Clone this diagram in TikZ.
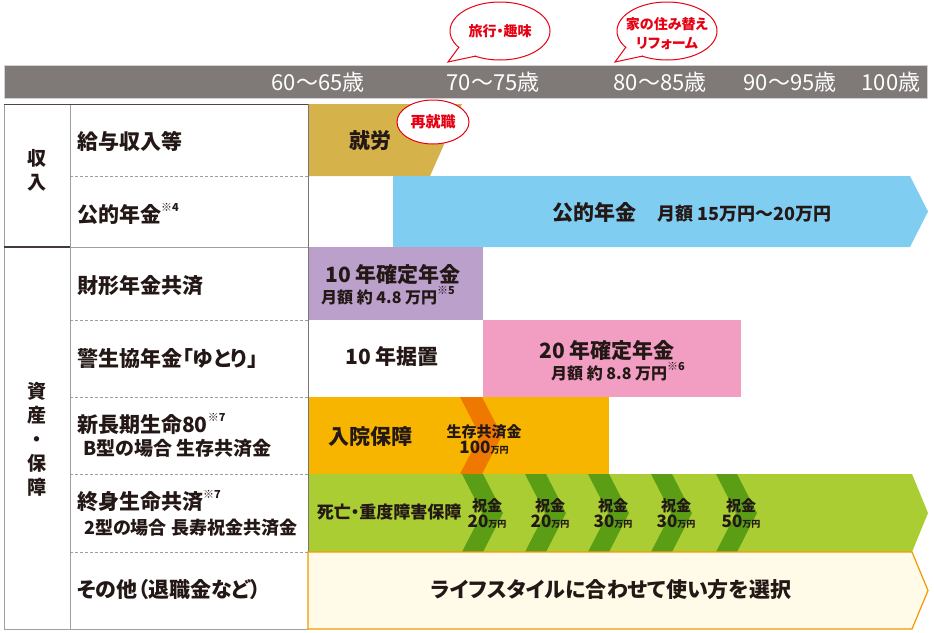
\documentclass[tikz,border=0pt]{standalone}
\usepackage{fontspec}
\setmainfont{Noto Sans CJK JP}[RawFeature=+palt]
\usetikzlibrary{shapes.geometric}
\definecolor{ink}{HTML}{231815}
\definecolor{barg}{HTML}{7F7A78}
\definecolor{gold}{HTML}{D6B24B}
\definecolor{sky}{HTML}{80CDF2}
\definecolor{lav}{HTML}{BBA0CC}
\definecolor{rose}{HTML}{F19EC2}
\definecolor{amber}{HTML}{F8B500}
\definecolor{rust}{HTML}{EE7800}
\definecolor{lime}{HTML}{ABCD34}
\definecolor{leaf}{HTML}{5B9E16}
\definecolor{cream}{HTML}{FFFBE8}
\definecolor{edge}{HTML}{F39800}
\definecolor{alert}{HTML}{E60012}
\newcommand\kome[1]{\raisebox{.55em}{\fontsize{11}{11}\selectfont ※#1}}
\newcommand\gnum[1]{{\fontsize{17}{16}\selectfont#1}{\fontsize{9}{9}\selectfont 万円}}

\begin{document}
\begin{tikzpicture}[x=1pt,y=-1pt,every node/.style={inner sep=0pt,text=ink},
rowlbl/.style={anchor=west,font=\bfseries\fontsize{21}{24}\selectfont},
grplbl/.style={align=center,font=\bfseries\fontsize{19}{24}\selectfont},
agelbl/.style={text=white,font=\fontsize{22}{26}\selectfont},
barlbl/.style={font=\bfseries\fontsize{21}{24}\selectfont},
sublbl/.style={font=\bfseries\fontsize{16}{18}\selectfont},
giftlbl/.style={align=center,font=\bfseries\fontsize{15}{16}\selectfont},
bubtxt/.style={text=alert,align=center,font=\bfseries\fontsize{14}{19}\selectfont},
bubline/.style={fill=white,draw=alert,line width=1pt},
rule/.style={draw=gray!75,line width=0.8pt},
dashrule/.style={draw=gray!75,line width=0.8pt,dash pattern=on 3pt off 2pt}]
\useasboundingbox(0,0)rectangle(934,632);
\path[fill=barg,draw=gray!35,line width=1pt](4,65)rectangle(927,98);
\node[agelbl](a60) at (318,82){60〜65歳};
\node[agelbl](a70) at (493,82){70〜75歳};
\node[agelbl](a80) at (660,82){80〜85歳};
\node[agelbl](a90) at (790,82){90〜95歳};
\node[agelbl](a100) at (891,82){100歳};
\fill[gold](308,104)--(462,104)--(430,176)--(308,176)--cycle;
\fill[sky](393,176)--(910,176)--(928,211.5)--(910,247)--(393,247)--cycle;
\fill[lav](308,247)rectangle(483,320);
\fill[rose](483,320)rectangle(741,397);
\fill[amber](308,397)rectangle(609,474);
\fill[rust](460,397)--(482,397)--(502,435.5)--(482,474)--(460,474)--(480,435.5)--cycle;
\fill[lime](308,474)--(912,474)--(928,513)--(912,552)--(308,552)--cycle;
\foreach \x in {462,525,588,651,716}
  \fill[leaf](\x,474)--(\x+21,474)--(\x+41,513)--(\x+21,552)--(\x,552)--(\x+20,513)--cycle;
\draw[rule](4,104)--(4,629)--(308,629);
\draw[rule](70,104)--(70,629);
\draw[draw=ink!80,line width=0.8pt](4,104)--(308,104);
\draw[draw=ink!60,line width=0.6pt](308,104)--(308,629);
\draw[draw=ink!85,line width=1.2pt](4,247)--(70,247);
\draw[rule](70,247)--(308,247);
\foreach \y in {176,320,397,474,552}
  \draw[dashrule](70,\y)--(308,\y);
\draw[fill=cream,draw=edge,line width=1.2pt](308,552)--(912,552)--(928,590.5)--(912,629)--(308,629)--cycle;
\node[grplbl](inc) at (37,170){収\\入};
\node[grplbl](ast) at (37,439){資\\産\\・\\保\\障};
\node[rowlbl](r1) at (77,141){給与収入等};
\node[rowlbl](r2) at (77,214){公的年金\kome4};
\node[rowlbl](r3) at (77,286){財形年金共済};
\node[rowlbl](r4) at (77,359){警生協年金「ゆとり」};
\node[rowlbl](r5) at (77,424){新長期生命80\kome7};
\node[rowlbl,font=\bfseries\fontsize{19}{24}\selectfont](r5b) at (83,448){B型の場合 生存共済金};
\node[rowlbl](r6) at (77,501){終身生命共済\kome7};
\node[rowlbl,font=\bfseries\fontsize{18}{24}\selectfont](r6b) at (84,528){2型の場合 長寿祝金共済金};
\node[rowlbl](r7) at (77,590){その他（退職金など）};
\node[barlbl](work) at (370,141){就労};
\node[barlbl](pub) at (692,213){公的年金\hspace{1em}{\fontsize{18}{20}\selectfont 月額 15万円〜20万円}};
\node[barlbl](fix10) at (393,275){10\,年確定年金};
\node[sublbl](fix10m) at (388,296){月額 約 4.8 万円\kome5};
\node[barlbl](defer) at (392,357){10\,年据置};
\node[barlbl](fix20) at (607,351){20\,年確定年金};
\node[sublbl](fix20m) at (618,372){月額 約 8.8 万円\kome6};
\node[barlbl](hosp) at (370,437){入院保障};
\node[giftlbl](alive) at (484,439){生存共済金\\\gnum{100}};
\node[barlbl,font=\bfseries\fontsize{17}{20}\selectfont](death) at (389,512){死亡・重度障害保障};
\foreach \x/\n [count=\i] in {462/20,525/20,588/30,651/30,716/50}
  \node[giftlbl](g\i) at (\x+25,513){祝金\\\gnum{\n}};
\node[barlbl](life) at (611,590){ライフスタイルに合わせて使い方を選択};
\coordinate(trip) at (500,31);
\path[bubline](trip) ellipse [x radius=50,y radius=29];
\fill[white](459,47)--(448,62)--(476,56)--cycle;
\draw[alert,line width=1pt](459,47)--(448,62)--(476,56);
\node[bubtxt](tripT) at (trip){旅行・趣味};
\coordinate(move) at (667,31);
\path[bubline](move) ellipse [x radius=50,y radius=29];
\fill[white](626,47)--(615,62)--(643,56)--cycle;
\draw[alert,line width=1pt](626,47)--(615,62)--(643,56);
\node[bubtxt](moveT) at (667,34){家の住み替え\\リフォーム};
\coordinate(rehire) at (433,122);
\path[bubline](rehire) ellipse [x radius=36,y radius=22];
\node[bubtxt,font=\bfseries\fontsize{15}{18}\selectfont](rehireT) at (rehire){再就職};
\end{tikzpicture}
\end{document}
